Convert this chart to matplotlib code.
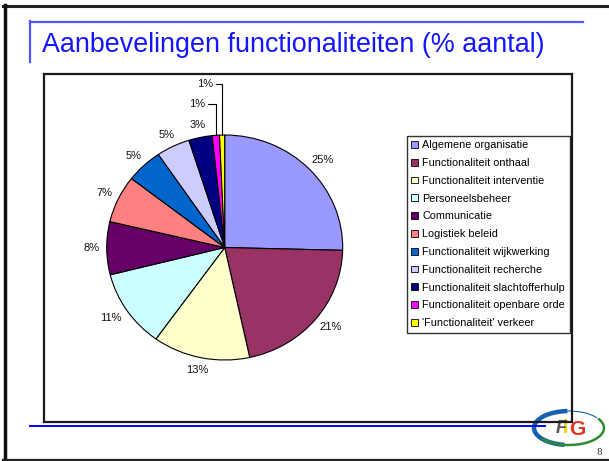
import numpy as np
import matplotlib
matplotlib.use("Agg")
import matplotlib.pyplot as plt
from matplotlib.patches import Rectangle, Arc
from matplotlib.lines import Line2D

plt.rcParams['font.family'] = ['Liberation Sans', 'DejaVu Sans']

# ---- data ----
categories = [
    "Algemene organisatie",
    "Functionaliteit onthaal",
    "Functionaliteit interventie",
    "Personeelsbeheer",
    "Communicatie",
    "Logistiek beleid",
    "Functionaliteit wijkwerking",
    "Functionaliteit recherche",
    "Functionaliteit slachtofferhulp",
    "Functionaliteit openbare orde",
    "'Functionaliteit' verkeer",
]
values = [25.4, 21.2, 13.3, 11.2, 7.6, 6.8, 5.0, 4.6, 3.2, 1.0, 0.7]
colors = ["#9999FF", "#993366", "#FFFFCC", "#CCFFFF", "#660066", "#FF8080",
          "#0066CC", "#CCCCFF", "#000080", "#FF00FF", "#FFFF00"]
title = "Aanbevelingen functionaliteiten (% aantal)"

W, H = 609, 461
fig = plt.figure(figsize=(W / 100, H / 100), dpi=100)
fig.patch.set_facecolor("white")


def fx(px):
    return px / W


def fy(py):
    return 1 - py / H


def hline(x0, x1, y, **kw):
    fig.add_artist(Line2D([fx(x0), fx(x1)], [fy(y), fy(y)], transform=fig.transFigure, **kw))


def vline(x, y0, y1, **kw):
    fig.add_artist(Line2D([fx(x), fx(x)], [fy(y0), fy(y1)], transform=fig.transFigure, **kw))


# slide border
hline(3, 612, 6, color="#222222", lw=2.2)
vline(4.7, 5, 460, color="#111111", lw=2.5)
hline(3, 612, 459.5, color="#222222", lw=1.6)

# title decoration
hline(29.5, 583, 22.2, color="#5555FF", lw=1.6)
vline(29.7, 21.5, 62, color="#5555FF", lw=1.6)
fig.text(fx(42.5), fy(51.7), title, fontsize=19.4, color="#1515FF",
         ha="left", va="baseline")

# chart area box
fig.add_artist(Rectangle((fx(43.5), fy(422)), fx(572.3) - fx(43.5), fy(74.3) - fy(422),
                         transform=fig.transFigure, fill=False, edgecolor="#1a1a1a", lw=1.6))

# bottom blue line
hline(30, 545, 426.3, color="#0000FF", lw=1.4)

# ---- pie ----
cx, cy, rx, ry = 224.7, 247.5, 118, 112.5
ax = fig.add_axes([fx(cx - rx), fy(cy + ry), 2 * rx / W, 2 * ry / H])
wedges, _ = ax.pie(values, colors=colors, startangle=90, counterclock=False,
                   wedgeprops=dict(edgecolor="black", linewidth=0.8))
ax.set_aspect("auto")
ax.set_xlim(-1, 1)
ax.set_ylim(-1, 1)
ax.axis("off")

leader_offsets = {9: (-19, 31), 10: (-17, 51)}
for i, (w, v) in enumerate(zip(wedges, values)):
    lab = "%d%%" % round(v)
    mid = np.deg2rad((w.theta1 + w.theta2) / 2)
    c, s = np.cos(mid), np.sin(mid)
    if i in leader_offsets:
        ox, oy = leader_offsets[i]
        ax.annotate(lab, xy=(c, s), xytext=(ox, oy), textcoords="offset pixels",
                    ha="center", va="center", fontsize=8, color="#111111",
                    annotation_clip=False,
                    arrowprops=dict(arrowstyle="-", color="black", lw=0.8,
                                    shrinkA=0, shrinkB=0,
                                    connectionstyle="angle,angleA=0,angleB=90,rad=0"))
    else:
        tw = 7.3 * len(lab)
        th = 10
        ax.annotate(lab, xy=(1.07 * c, 1.07 * s),
                    xytext=(c * tw / 2, s * th / 2), textcoords="offset pixels",
                    ha="center", va="center", fontsize=8, color="#111111",
                    annotation_clip=False)

leg = fig.legend(wedges, categories, loc="upper left",
                 bbox_to_anchor=(fx(406.7), fy(135.7)), bbox_transform=fig.transFigure,
                 fontsize=7.8, frameon=True, fancybox=False, shadow=False,
                 handlelength=0.6, handleheight=0.6, handletextpad=0.42,
                 labelspacing=0.72, borderpad=0.42, borderaxespad=0)
fr = leg.get_frame()
fr.set_edgecolor("black")
fr.set_linewidth(1.0)
for h in leg.legend_handles:
    h.set_edgecolor("black")
    h.set_linewidth(0.6)

# ---- logo ----
lax = fig.add_axes([fx(531), fy(450), 76 / W, 44 / H])
lax.set_xlim(0, 76)
lax.set_ylim(0, 44)
lax.axis("off")
lax.add_patch(Arc((38, 22), 70, 34, theta1=95, theta2=255, color="#1560B0", lw=3.2))
lax.add_patch(Arc((38, 22), 70, 34, theta1=20, theta2=95, color="#1560B0", lw=0.8))
lax.add_patch(Arc((38, 22), 70, 34, theta1=200, theta2=378, color="#2E8B2E", lw=1.8))
lax.add_patch(Rectangle((33, 17), 3.2, 14, color="#F5D800", lw=0))
lax.text(30, 22, "F", fontsize=13, fontweight="bold", style="italic", color="#555555",
         ha="center", va="center")
lax.text(46, 21, "G", fontsize=15, fontweight="bold", color="#E8301C",
         ha="center", va="center")

fig.text(fx(599), fy(452), "8", fontsize=6.5, color="#333333", family="DejaVu Serif",
         ha="center", va="center")

fig.savefig("out.png", dpi=100, facecolor="white")
